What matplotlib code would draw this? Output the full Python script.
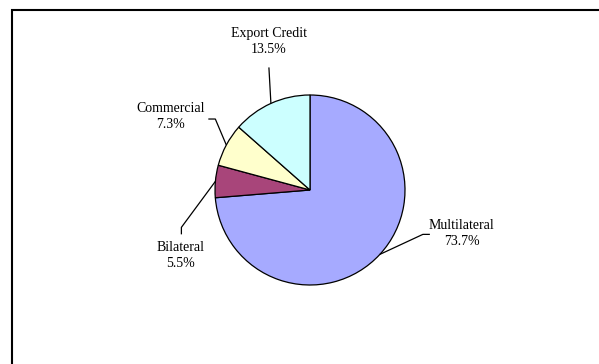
import numpy as np
import matplotlib.pyplot as plt
from matplotlib.patches import Rectangle

# shares of the debt stock by creditor type
labels = ['Multilateral', 'Bilateral', 'Commercial', 'Export Credit']
shares = [73.7, 5.5, 7.3, 13.5]
colors = ['#A6AAFF', '#A8457A', '#FFFFCC', '#CCFFFF']

W, H = 599, 364
fig = plt.figure(figsize=(W / 100, H / 100), dpi=100)
ax = fig.add_axes([0, 0, 1, 1])

cx, cy, r = 310, 174, 95
wedges, _ = ax.pie(shares, colors=colors, startangle=90, counterclock=False,
                   radius=r, center=(cx, cy), frame=True,
                   wedgeprops=dict(edgecolor='black', linewidth=0.9))
ax.set_xlim(0, W)
ax.set_ylim(0, H)
ax.set_aspect('equal')
ax.axis('off')

# outer frame (runs off the right and bottom edges)
ax.add_patch(Rectangle((11.5, -20), W + 20, H - 10 + 20, fill=False,
                       lw=1.5, edgecolor='black'))

# leader elbows and label centres, relative to the wedge edge point
layout = {
    'Multilateral': ([(43, 20), (50, 20)], (82, 21)),
    'Bilateral': ([(-34, -46), (-34, -53)], (-35, -74)),
    'Commercial': ([(-11, 26), (-18, 26)], (-56, 29)),
    'Export Credit': ([(-2, 36)], (-2, 62)),
}

font = dict(family='Liberation Serif', fontsize=10)
for w, name, val in zip(wedges, labels, shares):
    ang = np.deg2rad((w.theta1 + w.theta2) / 2)
    ex, ey = cx + r * np.cos(ang), cy + r * np.sin(ang)
    pts, (tx, ty) = layout[name]
    xs = [ex] + [ex + dx for dx, dy in pts]
    ys = [ey] + [ey + dy for dx, dy in pts]
    ax.plot(xs, ys, color='black', lw=0.9, solid_capstyle='butt')
    ax.text(ex + tx, ey + ty, f'{name}\n{val}%', ha='center', va='center',
            linespacing=1.3, **font)

fig.savefig('out.png', dpi=100)
